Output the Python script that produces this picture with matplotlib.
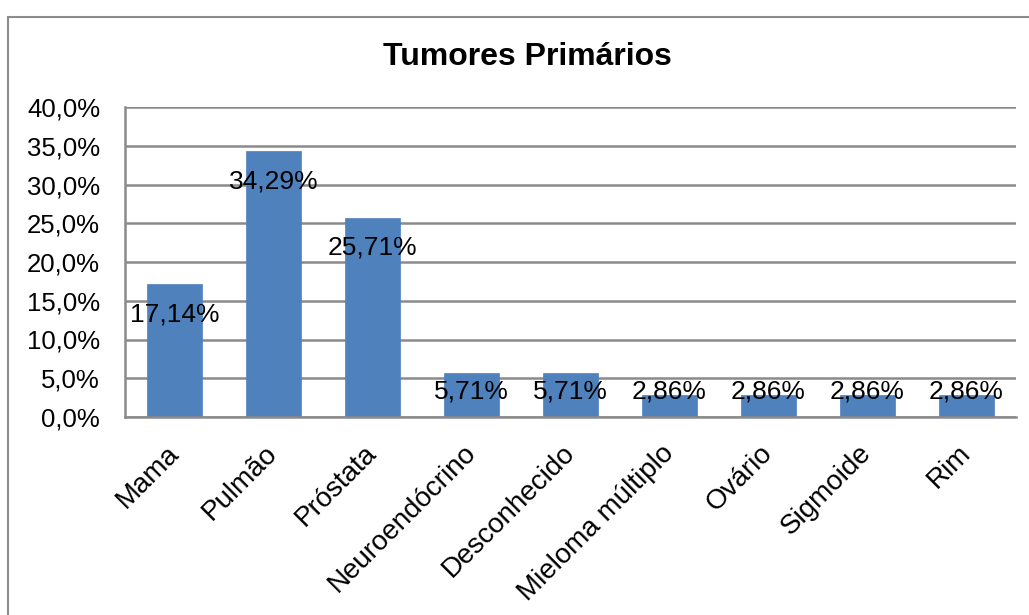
import matplotlib
matplotlib.use("Agg")
import matplotlib.pyplot as plt
from matplotlib.patches import Rectangle
from matplotlib.ticker import FuncFormatter
from matplotlib.transforms import ScaledTranslation

categories = ["Mama", "Pulmão", "Próstata", "Neuroendócrino", "Desconhecido",
              "Mieloma múltiplo", "Ovário", "Sigmoide", "Rim"]
values = [17.14, 34.29, 25.71, 5.71, 5.71, 2.86, 2.86, 2.86, 2.86]
value_labels = ["17,14%", "34,29%", "25,71%", "5,71%", "5,71%",
                "2,86%", "2,86%", "2,86%", "2,86%"]
yticks = [0, 5, 10, 15, 20, 25, 30, 35, 40]
title = "Tumores Primários"

plt.rcParams['font.family'] = ['Liberation Sans', 'DejaVu Sans']

W, H, DPI = 1029, 615, 100
fig = plt.figure(figsize=(W / DPI, H / DPI), dpi=DPI)
fig.patch.set_facecolor("white")

# outer chart border (extends beyond the right/bottom edge)
fig.patches.append(Rectangle((8 / W, -0.1), 1.2, 1 - 17 / H + 0.1,
                             transform=fig.transFigure, fill=False,
                             edgecolor="#8c8c8c", linewidth=1.5, zorder=0))

ax_l, ax_r, ax_t, ax_b = 125, 1016, 107, 417
ax = fig.add_axes([ax_l / W, 1 - ax_b / H, (ax_r - ax_l) / W, (ax_b - ax_t) / H])

x = list(range(len(categories)))
ax.bar(x, values, width=0.565, color="#4F81BD", edgecolor="#4F81BD",
       linewidth=0.5, zorder=3)

ax.set_ylim(0, 40)
ax.set_xlim(-0.5, len(categories) - 0.5)
ax.set_yticks(yticks)
ax.yaxis.set_major_formatter(FuncFormatter(lambda v, p: f"{v:.1f}%".replace(".", ",")))
ax.grid(axis="y", color="#8a8a8a", linewidth=1.8, zorder=1)
ax.tick_params(axis="both", length=0, labelsize=18.5, colors="black")
ax.tick_params(axis="y", pad=18)
ax.set_xticks(x)
ax.set_xticklabels([])

# category labels, rotated 45 degrees, ending just under each bar
shift = ScaledTranslation(-9 / DPI, -23 / DPI, fig.dpi_scale_trans)
xtrans = ax.get_xaxis_transform() + shift
for xi, cat in zip(x, categories):
    ax.text(xi, 0, cat, transform=xtrans, rotation=45, ha="right", va="top",
            rotation_mode="anchor", fontsize=20, color="black", clip_on=False)

for s in ["top", "right"]:
    ax.spines[s].set_visible(False)
for s in ["left", "bottom"]:
    ax.spines[s].set_color("#8a8a8a")
    ax.spines[s].set_linewidth(1.8)
    ax.spines[s].set_zorder(4)

# data labels: inside end, clamped near the base for short bars
px_per_unit = (ax_b - ax_t) / 40.0
off = 30 / px_per_unit
floor = 25 / px_per_unit
for xi, v, lab in zip(x, values, value_labels):
    yc = max(v - off, floor)
    ax.text(xi, yc, lab, ha="center", va="center", fontsize=19,
            color="black", zorder=5)

fig.text(527 / W, 1 - 57 / H, title, ha="center", va="center",
         fontsize=23, fontweight="bold")

fig.savefig("out.png", dpi=DPI, facecolor="white")
